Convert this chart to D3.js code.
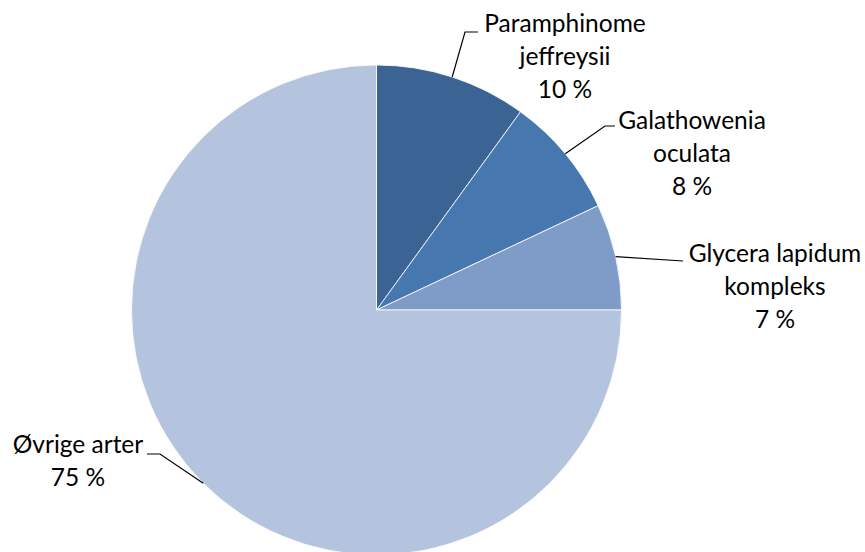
<!DOCTYPE html>
<html>
<head>
<meta charset="utf-8">
<script src="https://cdn.jsdelivr.net/npm/d3@7"></script>
<style>
  html, body { margin: 0; padding: 0; background: #ffffff; }
  svg { display: block; }
  text { font-family: Lato, "Open Sans", sans-serif; fill: #000; }
</style>
</head>
<body>
<script>
// Species shares (percent)
const species = ["Paramphinome jeffreysii", "Galathowenia oculata", "Glycera lapidum kompleks", "Øvrige arter"];
const shares = [10, 8, 7, 75];
const labelLines = [
  ["Paramphinome", "jeffreysii", "10 %"],
  ["Galathowenia", "oculata", "8 %"],
  ["Glycera lapidum", "kompleks", "7 %"],
  ["Øvrige arter", "75 %"]
];
const colors = ["#3b6494", "#4677af", "#7f9cc8", "#b4c3de"];

const width = 865, height = 552;
const cx = 376.5, cy = 310, radius = 245;

const svg = d3.select("body").append("svg")
  .attr("width", width).attr("height", height);

const data = species.map((s, i) => ({ name: s, value: shares[i], lines: labelLines[i], color: colors[i] }));

const pie = d3.pie().value(d => d.value).sort(null);
const arcs = pie(data);
const arc = d3.arc().innerRadius(0).outerRadius(radius);

const g = svg.append("g").attr("transform", `translate(${cx},${cy})`);

g.selectAll("path.slice")
  .data(arcs)
  .join("path")
  .attr("class", "slice")
  .attr("d", arc)
  .attr("fill", d => d.data.color)
  .attr("stroke", "#ffffff")
  .attr("stroke-width", 0.8);

// Label placement: anchor point of each text block plus leader elbow
const labelLayout = [
  { tx: 565, ty: 32, elbow: [465, 32], end: [478, 32] },
  { tx: 692, ty: 129, elbow: [605, 126], end: [615, 126] },
  { tx: 775, ty: 262, elbow: [683, 261], end: [683, 261] },
  { tx: 78, ty: 453, elbow: [160, 454], end: [147, 454] }
];
const lineH = 33;

arcs.forEach((a, i) => {
  const L = labelLayout[i];
  const mid = (a.startAngle + a.endAngle) / 2;
  const px = cx + Math.sin(mid) * radius;
  const py = cy - Math.cos(mid) * radius;
  svg.append("polyline")
    .attr("points", [[px, py], L.elbow, L.end].map(p => p.join(",")).join(" "))
    .attr("fill", "none")
    .attr("stroke", "#000")
    .attr("stroke-width", 1.2);
  const t = svg.append("text")
    .attr("text-anchor", "middle")
    .attr("font-size", 24.5);
  a.data.lines.forEach((ln, j) => {
    t.append("tspan").attr("x", L.tx).attr("y", L.ty + j * lineH).text(ln);
  });
});
</script>
</body>
</html>
